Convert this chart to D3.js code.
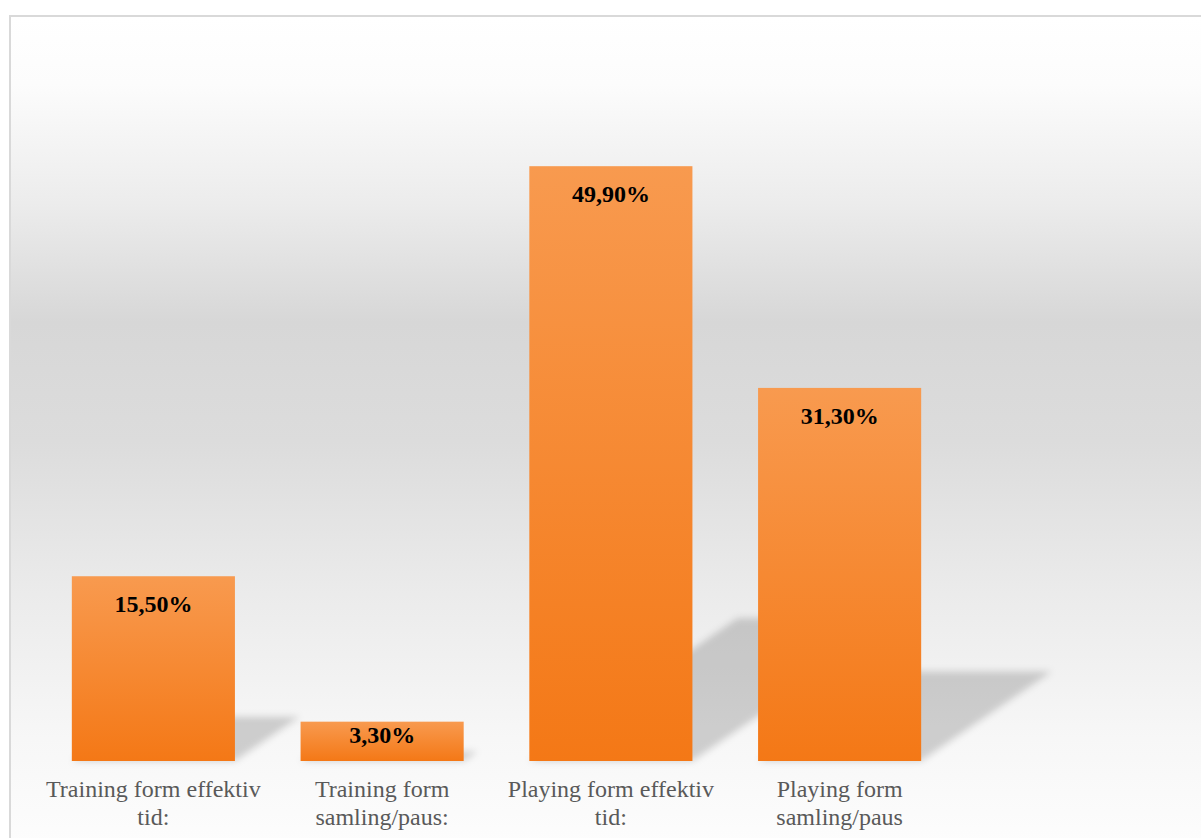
<!DOCTYPE html>
<html>
<head>
<meta charset="utf-8">
<script src="https://cdn.jsdelivr.net/npm/d3@7"></script>
<style>
  html, body { margin: 0; padding: 0; background: #fff; }
  svg { display: block; }
</style>
</head>
<body>
<div id="chart"></div>
<script>
// data
const categories = ["Training form effektiv tid:", "Training form samling/paus:", "Playing form effektiv tid:", "Playing form samling/paus"];
const values = [15.5, 3.3, 49.9, 31.3];
const valueLabels = ["15,50%", "3,30%", "49,90%", "31,30%"];

const width = 1201, height = 838;
const baseY = 761, topY = 165;

const svg = d3.select("#chart").append("svg")
  .attr("width", width).attr("height", height);

const defs = svg.append("defs");

// background gradient (white -> gray -> white)
const bg = defs.append("linearGradient").attr("id", "bg")
  .attr("x1", 0).attr("y1", 0).attr("x2", 0).attr("y2", 1);
[[0, "#ffffff"], [0.08, "#fcfcfc"], [0.22, "#ececec"], [0.36, "#d7d7d7"], [0.5, "#dcdcdc"], [0.68, "#ebebeb"], [0.85, "#f7f7f7"], [1, "#fefefe"]]
  .forEach(s => bg.append("stop").attr("offset", s[0]).attr("stop-color", s[1]));

// bar gradient
const bar = defs.append("linearGradient").attr("id", "bar")
  .attr("x1", 0).attr("y1", 0).attr("x2", 0).attr("y2", 1);
bar.append("stop").attr("offset", 0).attr("stop-color", "#f89a4f");
bar.append("stop").attr("offset", 1).attr("stop-color", "#f47816");

defs.append("filter").attr("id", "blur")
  .attr("x", "-20%").attr("y", "-20%").attr("width", "140%").attr("height", "140%")
  .append("feGaussianBlur").attr("stdDeviation", 3.5);

svg.append("rect")
  .attr("x", 10).attr("y", 16).attr("width", 1220).attr("height", 850)
  .attr("fill", "url(#bg)")
  .attr("stroke", "#d9d9d9").attr("stroke-width", 2);

const x = d3.scaleBand()
  .domain(categories)
  .range([39, 954])
  .paddingInner(0.287)
  .paddingOuter(0.1435);

const y = d3.scaleLinear()
  .domain([0, 50])
  .range([baseY, topY]);

const data = categories.map((c, i) => ({cat: c, v: values[i], lab: valueLabels[i]}));

// perspective shadows
svg.append("g").attr("filter", "url(#blur)")
  .selectAll("polygon")
  .data(data)
  .join("polygon")
    .attr("fill", "#000")
    .attr("fill-opacity", 0.17)
    .attr("points", d => {
      const x0 = x(d.cat), x1 = x0 + x.bandwidth();
      const h = y(0) - y(d.v);
      const dx = h * 0.35, dy = h * 0.24;
      return [[x0, y(0)], [x1, y(0)], [x1 + dx, y(0) - dy], [x0 + dx, y(0) - dy]].join(" ");
    });

svg.append("g")
  .selectAll("rect")
  .data(data)
  .join("rect")
    .attr("x", d => x(d.cat))
    .attr("y", d => y(d.v))
    .attr("width", x.bandwidth())
    .attr("height", d => y(0) - y(d.v))
    .attr("fill", "url(#bar)");

// value labels
svg.append("g")
  .selectAll("text")
  .data(data)
  .join("text")
    .attr("x", d => x(d.cat) + x.bandwidth() / 2)
    .attr("y", d => Math.min(y(d.v) + 36, y(0) - 18))
    .attr("text-anchor", "middle")
    .style("font-family", "'Liberation Serif', 'Times New Roman', serif")
    .style("font-size", "24px")
    .style("font-weight", "bold")
    .style("fill", "#000")
    .text(d => d.lab);

// category labels, wrapped to band step
const catG = svg.append("g");
data.forEach(d => {
  const t = catG.append("text")
    .attr("text-anchor", "middle")
    .style("font-family", "'Liberation Serif', 'Times New Roman', serif")
    .style("font-size", "24px")
    .style("fill", "#595959");
  const cx = x(d.cat) + x.bandwidth() / 2;
  const words = d.cat.split(" ");
  let line = [], lineNo = 0;
  let ts = t.append("tspan").attr("x", cx).attr("y", 797);
  words.forEach(w => {
    line.push(w);
    ts.text(line.join(" "));
    if (ts.node().getComputedTextLength() > x.step() - 6 && line.length > 1) {
      line.pop();
      ts.text(line.join(" "));
      line = [w];
      lineNo++;
      ts = t.append("tspan").attr("x", cx).attr("y", 797 + lineNo * 28).text(w);
    }
  });
});
</script>
</body>
</html>
